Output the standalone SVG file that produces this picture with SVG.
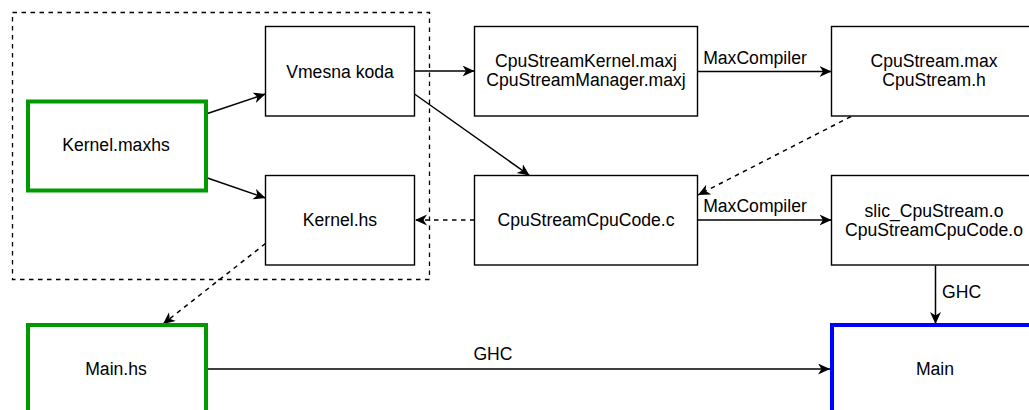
<svg xmlns="http://www.w3.org/2000/svg" width="1029" height="410" viewBox="0 0 1029 410">
<defs>
<marker id="arr" markerUnits="userSpaceOnUse" markerWidth="13" markerHeight="12" refX="12" refY="5.5" orient="auto">
<path d="M0,0 L12,5.5 L0,11 L3.5,5.5 Z" fill="#000"/>
</marker>
</defs>
<style>
text{font-family:"Liberation Sans",Arial,sans-serif;font-size:17.6px;fill:#000}
.c{text-anchor:middle}
.box{fill:#fff;stroke:#000;stroke-width:1.4}
.green{fill:#fff;stroke:#009900;stroke-width:4}
.blue{fill:#fff;stroke:#0000ff;stroke-width:4}
.ln{fill:none;stroke:#000;stroke-width:1.5;marker-end:url(#arr)}
.dash{stroke-dasharray:4.5 4.5}
</style>
<rect width="1029" height="410" fill="#fff"/>
<g id="group">
<rect x="12.5" y="12.5" width="417" height="267" fill="none" stroke="#000" stroke-width="1.3" stroke-dasharray="4.5 4.5"/>
</g>
<g id="connectors">
<line class="ln" x1="206" y1="114" x2="265.5" y2="94"/>
<line class="ln" x1="206" y1="177.5" x2="265.5" y2="198"/>
<line class="ln" x1="414.5" y1="71" x2="474.5" y2="71"/>
<line class="ln" x1="414.5" y1="94" x2="529.5" y2="175.5"/>
<line class="ln" x1="697.5" y1="71.5" x2="831.5" y2="71.5"/>
<line class="ln dash" x1="851" y1="116.5" x2="698" y2="195"/>
<line class="ln dash" x1="474.5" y1="220" x2="415" y2="220"/>
<line class="ln" x1="697.5" y1="220" x2="831.5" y2="220"/>
<line class="ln dash" x1="265.5" y1="243.5" x2="163" y2="324"/>
<line class="ln" x1="935.5" y1="265.5" x2="935.5" y2="324"/>
<line class="ln" x1="206" y1="369" x2="830" y2="369"/>
<text x="755" y="63.5" class="c">MaxCompiler</text>
<text x="755" y="212" class="c">MaxCompiler</text>
<text x="942" y="298">GHC</text>
<text x="493" y="359.5" class="c">GHC</text>
</g>
<g id="kernel-maxhs">
<rect class="green" x="28" y="101.5" width="178" height="89"/>
<text x="116" y="151" class="c">Kernel.maxhs</text>
</g>
<g id="vmesna-koda">
<rect class="box" x="265.5" y="26.5" width="149" height="89.5"/>
<text x="340" y="77.5" class="c">Vmesna koda</text>
</g>
<g id="kernel-hs">
<rect class="box" x="265.5" y="175.5" width="149" height="89.5"/>
<text x="340" y="226" class="c">Kernel.hs</text>
</g>
<g id="cpustream-kernel">
<rect class="box" x="474.5" y="26.5" width="223" height="89.5"/>
<text x="586" y="66.7" class="c">CpuStreamKernel.maxj</text>
<text x="586" y="86.3" class="c">CpuStreamManager.maxj</text>
</g>
<g id="cpustream-cpucode">
<rect class="box" x="474.5" y="175.5" width="223" height="89.5"/>
<text x="586" y="226" class="c">CpuStreamCpuCode.c</text>
</g>
<g id="cpustream-max">
<rect class="box" x="831.5" y="26.5" width="205" height="89.5"/>
<text x="934" y="66.7" class="c">CpuStream.max</text>
<text x="934" y="86.3" class="c">CpuStream.h</text>
</g>
<g id="slic-objects">
<rect class="box" x="831.5" y="175.5" width="205" height="89.5"/>
<text x="934" y="216.5" class="c">slic_CpuStream.o</text>
<text x="934" y="236" class="c">CpuStreamCpuCode.o</text>
</g>
<g id="main-hs">
<rect class="green" x="28" y="325" width="178" height="100"/>
<text x="116" y="375" class="c">Main.hs</text>
</g>
<g id="main">
<rect class="blue" x="832" y="325" width="205" height="100"/>
<text x="935" y="375" class="c">Main</text>
</g>
</svg>
